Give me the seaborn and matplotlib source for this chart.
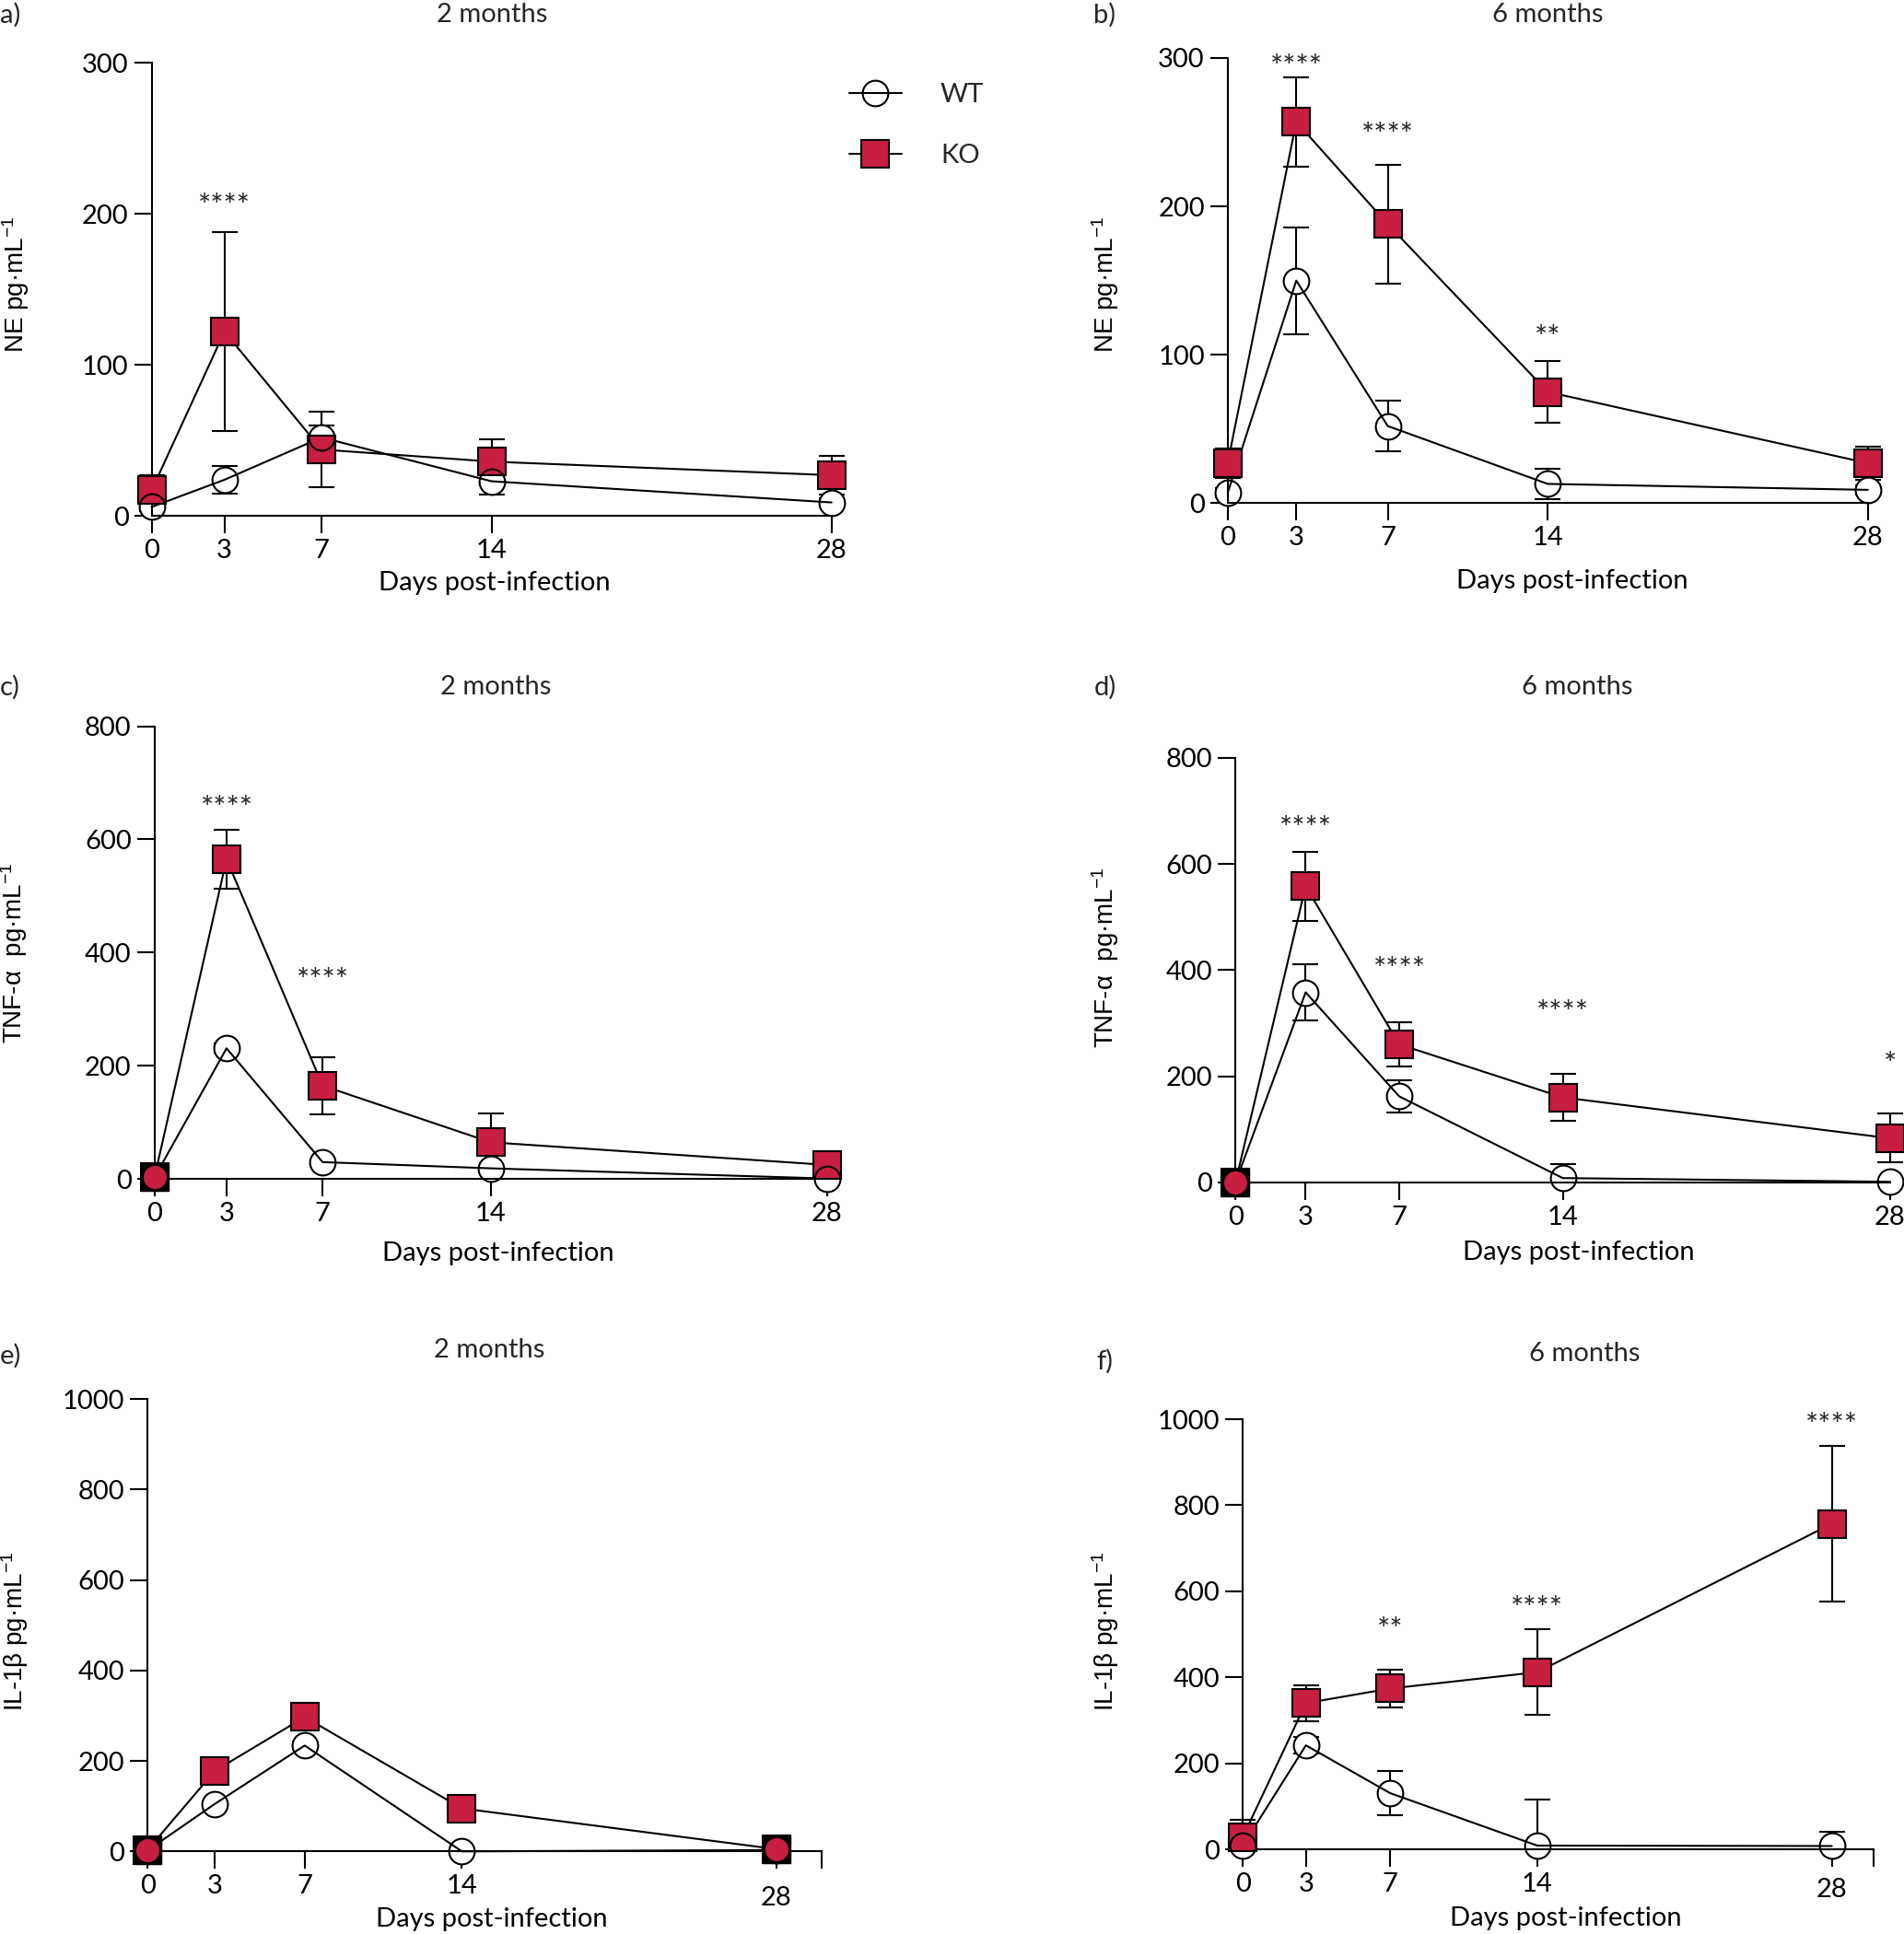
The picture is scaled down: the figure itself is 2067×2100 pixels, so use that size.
import matplotlib
matplotlib.use('Agg')
import matplotlib.pyplot as plt
from matplotlib.lines import Line2D
from matplotlib.patches import Rectangle
import seaborn as sns

# ---------------- data ----------------
days = [0, 3, 7, 14, 28]

# NE, 2 months
ne2_wt = [6, 24, 52, 23, 9]
ne2_wt_err = [3, 9, 8, 9, 3]
ne2_ko = [17, 122, 44, 36, 27]
ne2_ko_err = [10, 66, 25, 15, 13]
# NE, 6 months
ne6_wt = [7, 150, 52, 13, 9]
ne6_wt_err = [3, 36, 17, 10, 3]
ne6_ko = [27, 257, 188, 75, 27]
ne6_ko_err = [10, 30, 40, 21, 11]
# TNF-alpha, 2 months
tnf2_wt = [3, 231, 30, 19, 1]
tnf2_wt_err = [2, 8, 5, 5, 2]
tnf2_ko = [3, 565, 165, 65, 25]
tnf2_ko_err = [3, 52, 50, 51, 8]
# TNF-alpha, 6 months
tnf6_wt = [0, 358, 162, 8, 1]
tnf6_wt_err = [2, 53, 31, 26, 2]
tnf6_ko = [0, 558, 260, 160, 83]
tnf6_ko_err = [3, 65, 41, 44, 46]
# IL-1beta, 2 months
il2_wt = [2, 105, 234, 0, 3]
il2_wt_err = [1, 6, 8, 2, 2]
il2_ko = [3, 178, 297, 95, 5]
il2_ko_err = [2, 8, 10, 6, 3]
# IL-1beta, 6 months
il6_wt = [9, 242, 131, 9, 8]
il6_wt_err = [8, 20, 51, 106, 33]
il6_ko = [29, 340, 374, 412, 757]
il6_ko_err = [40, 42, 43, 100, 180]

# significance marks: (day, text, value)
stars_a = [(3, '****', 210)]
stars_b = [(3, '****', 299), (7, '****', 253), (14, '**', 116)]
stars_c = [(3, '****', 668), (7, '****', 363)]
stars_d = [(3, '****', 680), (7, '****', 415), (14, '****', 333), (28, '*', 235)]
stars_e = []
stars_f = [(7, '**', 527), (14, '****', 577), (28, '****', 1002)]

# days where both groups overlap near zero (drawn as black square + red dot)
overlap_c = [0]
overlap_d = [0]
overlap_e = [0, 28]

ne_ticks = [0, 100, 200, 300]
tnf_ticks = [0, 200, 400, 600, 800]
il_ticks = [0, 200, 400, 600, 800, 1000]

titles = ['2 months', '6 months', '2 months', '6 months', '2 months', '6 months']
letters = ['a)', 'b)', 'c)', 'd)', 'e)', 'f)']
ylabels = ['NE pg·mL$^{-1}$', 'NE pg·mL$^{-1}$',
           'TNF-α  pg·mL$^{-1}$', 'TNF-α  pg·mL$^{-1}$',
           'IL-1β pg·mL$^{-1}$', 'IL-1β pg·mL$^{-1}$']
xlabel = 'Days post-infection'
legend_labels = ['WT', 'KO']

RED = '#C81E41'

# ---------------- style ----------------
sns.set_theme(style='ticks')
plt.rcParams['font.family'] = ['Lato', 'DejaVu Sans']
plt.rcParams['mathtext.fontset'] = 'custom'
plt.rcParams['mathtext.rm'] = 'Liberation Sans'
plt.rcParams['mathtext.it'] = 'Liberation Sans:italic'
plt.rcParams['axes.linewidth'] = 1.5
plt.rcParams['axes.edgecolor'] = 'black'

W, H = 2067, 2100
fig = plt.figure(figsize=(W / 100, H / 100), dpi=100)
FS = 21
SFS = 24


def fx(px):
    return px / W


def fy(py):
    return 1 - py / H


# axes boxes in pixels: left, right(xmax), bottom(y=0), top(ymax)
boxes = [
    (164.6, 902.7, 560.3, 68.1),
    (1332.8, 2027.7, 546.4, 62.9),
    (167.7, 898.0, 1280.3, 788.5),
    (1341.3, 2051.9, 1283.8, 822.8),
    (160.1, 891.6, 2010.3, 1519.1),
    (1349.2, 2034.3, 2008.2, 1541.0),
]
title_pos = [(534, 16), (1680, 16), (538, 746), (1712, 746), (531, 1466), (1720, 1470)]
letter_pos = [(0, 16), (1187, 16), (0, 746), (1188, 746), (0, 1472), (1190, 1478)]
ylabel_pos = [(17, 309), (1200, 309), (15, 1035), (1200, 1040), (16, 1771), (1200, 1771)]
xlabel_pos = [(537, 633), (1707, 631), (541, 1361), (1714, 1360), (534, 2084), (1700, 2083)]

panels = [
    (ne2_wt, ne2_wt_err, ne2_ko, ne2_ko_err, 300, ne_ticks, stars_a, 28, [], 0),
    (ne6_wt, ne6_wt_err, ne6_ko, ne6_ko_err, 300, ne_ticks, stars_b, 28, [], 0),
    (tnf2_wt, tnf2_wt_err, tnf2_ko, tnf2_ko_err, 800, tnf_ticks, stars_c, 28, overlap_c, 0),
    (tnf6_wt, tnf6_wt_err, tnf6_ko, tnf6_ko_err, 800, tnf_ticks, stars_d, 28, overlap_d, 0),
    (il2_wt, il2_wt_err, il2_ko, il2_ko_err, 1000, il_ticks, stars_e, 30, overlap_e, 9),
    (il6_wt, il6_wt_err, il6_ko, il6_ko_err, 1000, il_ticks, stars_f, 30, [], 4),
]

MS = 21
for i, (wt, wte, ko, koe, ymax, yticks, stars, xmax, overlap, pad28) in enumerate(panels):
    L, R, B, T = boxes[i]
    ax = fig.add_axes([fx(L), fy(B), fx(R - L), (B - T) / H])
    ax.set_xlim(0, xmax)
    ax.set_ylim(0, ymax)

    # error bars (clipped at the x axis, free to extend sideways)
    for vals, errs in ((ko, koe), (wt, wte)):
        eb = ax.errorbar(days, vals, yerr=errs, fmt='none', ecolor='black',
                         elinewidth=1.5, capsize=10, capthick=1.5, zorder=2)
        for art in list(eb[1]) + list(eb[2]):
            art.set_clip_on(True)
            art.set_clip_path(Rectangle((-0.2, 0), 1.4, 2, transform=ax.transAxes))
    # white interior of WT circles hides the error bar inside the symbol
    sns.lineplot(x=days, y=wt, ax=ax, linestyle='none', marker='o', markersize=MS - 1,
                 markerfacecolor='white', markeredgecolor='none',
                 zorder=2.2, clip_on=False)
    # lines
    sns.lineplot(x=days, y=ko, ax=ax, color='black', lw=1.5, zorder=2.5, clip_on=False)
    sns.lineplot(x=days, y=wt, ax=ax, color='black', lw=1.5, zorder=2.5, clip_on=False)
    # markers
    sns.lineplot(x=days, y=ko, ax=ax, linestyle='none', marker='s', markersize=MS,
                 markerfacecolor=RED, markeredgecolor='black', markeredgewidth=1.5,
                 zorder=3, clip_on=False)
    sns.lineplot(x=days, y=wt, ax=ax, linestyle='none', marker='o', markersize=MS - 1,
                 markerfacecolor='none', markeredgecolor='black', markeredgewidth=1.5,
                 zorder=4, clip_on=False)
    # overlapping points near zero
    if overlap:
        ov_y = [ko[days.index(d)] for d in overlap]
        ax.plot(overlap, ov_y, linestyle='none', marker='s', markersize=MS + 1,
                markerfacecolor='black', markeredgecolor='black', zorder=4.5, clip_on=False)
        ax.plot(overlap, ov_y, linestyle='none', marker='o', markersize=MS - 4,
                markerfacecolor=RED, markeredgecolor=RED, zorder=5, clip_on=False)

    # significance
    for d, s, v in stars:
        ax.annotate(s, (d, v), xytext=(0, -0.54 * SFS), textcoords='offset points',
                    ha='center', va='baseline', fontsize=SFS, annotation_clip=False)

    # ticks
    if xmax == 30:
        ax.set_xticks(days + [30], [str(d) for d in days] + [''])
    else:
        ax.set_xticks(days, [str(d) for d in days])
    ax.set_yticks(yticks, [str(t) for t in yticks])
    ax.tick_params(axis='both', direction='out', length=14, width=1.5, labelsize=FS,
                   pad=4, color='black', labelcolor='black')
    if pad28:
        ax.xaxis.get_major_ticks()[4].set_pad(4 + pad28)
    sns.despine(ax=ax)
    ax.grid(False)

    # labels
    ax.set_ylabel(ylabels[i], fontfamily='Liberation Sans', fontsize=20, va='center',
                  color='black')
    ax.yaxis.set_label_coords(fx(ylabel_pos[i][0]), fy(ylabel_pos[i][1]),
                              transform=fig.transFigure)
    ax.set_xlabel(xlabel, fontsize=FS, va='center', color='black')
    ax.xaxis.set_label_coords(fx(xlabel_pos[i][0]), fy(xlabel_pos[i][1]),
                              transform=fig.transFigure)

    fig.text(fx(title_pos[i][0]), fy(title_pos[i][1]), titles[i], ha='center',
             va='center', fontsize=FS)
    fig.text(fx(letter_pos[i][0]), fy(letter_pos[i][1]), letters[i], ha='left',
             va='center', fontsize=FS)

handles = [
    Line2D([], [], color='black', lw=1.5, marker='o', markersize=MS - 1,
           markerfacecolor='none', markeredgecolor='black', markeredgewidth=1.5),
    Line2D([], [], color='black', lw=1.5, marker='s', markersize=MS,
           markerfacecolor=RED, markeredgecolor='black', markeredgewidth=1.5),
]
fig.legend(handles, legend_labels, loc='center left',
           bbox_to_anchor=(fx(922), fy(136)), frameon=False, fontsize=FS,
           handlelength=1.95, handletextpad=1.44, labelspacing=1.39,
           borderpad=0, borderaxespad=0)

fig.savefig('out.png', dpi=100)
